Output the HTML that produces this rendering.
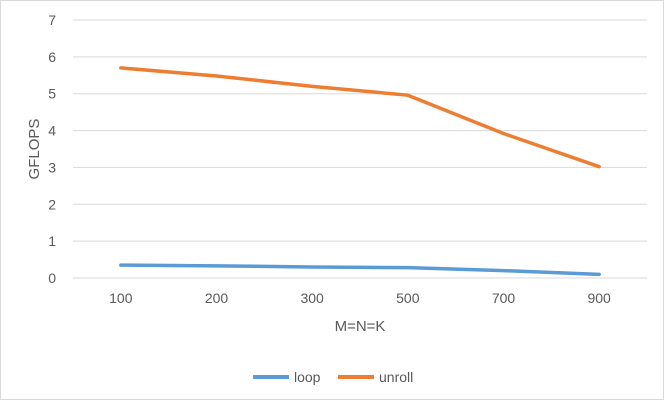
<!DOCTYPE html>
<html><head><meta charset="utf-8"><style>
body{margin:0;background:#fff;font-family:"Liberation Sans",sans-serif}
svg text{font-family:"Liberation Sans",sans-serif;fill:#595959}
</style></head><body>
<svg id="chart" width="664" height="400" xmlns="http://www.w3.org/2000/svg">
<rect x="0.5" y="0.5" width="663" height="399" fill="#fff" stroke="#d9d9d9"/>
<g id="grid"></g><g id="ylab"></g><g id="xlab"></g><g id="series"></g>
<text x="39" y="149" font-size="15" text-anchor="middle" transform="rotate(-90 39 149)">GFLOPS</text>
<text x="360" y="331" font-size="15" text-anchor="middle">M=N=K</text>
<g>
<line x1="253" y1="377" x2="289" y2="377" stroke="#5b9bd5" stroke-width="4"/>
<text x="294" y="382" font-size="14">loop</text>
<line x1="338" y1="377" x2="374" y2="377" stroke="#ed7d31" stroke-width="4"/>
<text x="379" y="382" font-size="14">unroll</text>
</g>
</svg>
<script>
const categories=["100","200","300","500","700","900"];
const loopValues=[0.35,0.33,0.30,0.28,0.20,0.10];
const unrollValues=[5.70,5.48,5.20,4.96,3.92,3.02];
const yTicks=[0,1,2,3,4,5,6,7];
const NS="http://www.w3.org/2000/svg";
const plotLeft=73,plotRight=647,plotTop=20,plotBottom=278,yMax=7;
function yScale(v){return plotBottom-(v/yMax)*(plotBottom-plotTop);}
const bw=(plotRight-plotLeft)/categories.length;
function xScale(i){return plotLeft+bw*(i+0.5);}
function mk(tag,attrs,parent){const e=document.createElementNS(NS,tag);for(const k in attrs)e.setAttribute(k,attrs[k]);parent.appendChild(e);return e;}
const grid=document.getElementById('grid'),yl=document.getElementById('ylab'),xl=document.getElementById('xlab'),ser=document.getElementById('series');
yTicks.forEach(t=>{
 const l=mk('line',{x1:plotLeft,x2:plotRight,y1:yScale(t),y2:yScale(t),stroke:'#d9d9d9','stroke-width':1},grid);
 
 
 const tx=mk('text',{x:56,y:yScale(t)+5,'font-size':14,'text-anchor':'end'},yl);
 tx.textContent=t;
 
 
});
categories.forEach((c,i)=>{
 const tx=mk('text',{x:xScale(i),y:303,'font-size':14,'text-anchor':'middle'},xl);
 tx.textContent=c;
 
 
});
function drawLine(vals,color,name){
 const p=mk('polyline',{points:vals.map((v,i)=>xScale(i)+','+yScale(v)).join(' '),fill:'none',stroke:color,'stroke-width':3.5,'stroke-linejoin':'round','stroke-linecap':'round'},ser);
 
 
}
drawLine(loopValues,'#5b9bd5','loop-line');
drawLine(unrollValues,'#ed7d31','unroll-line');
</script>
</body></html>
